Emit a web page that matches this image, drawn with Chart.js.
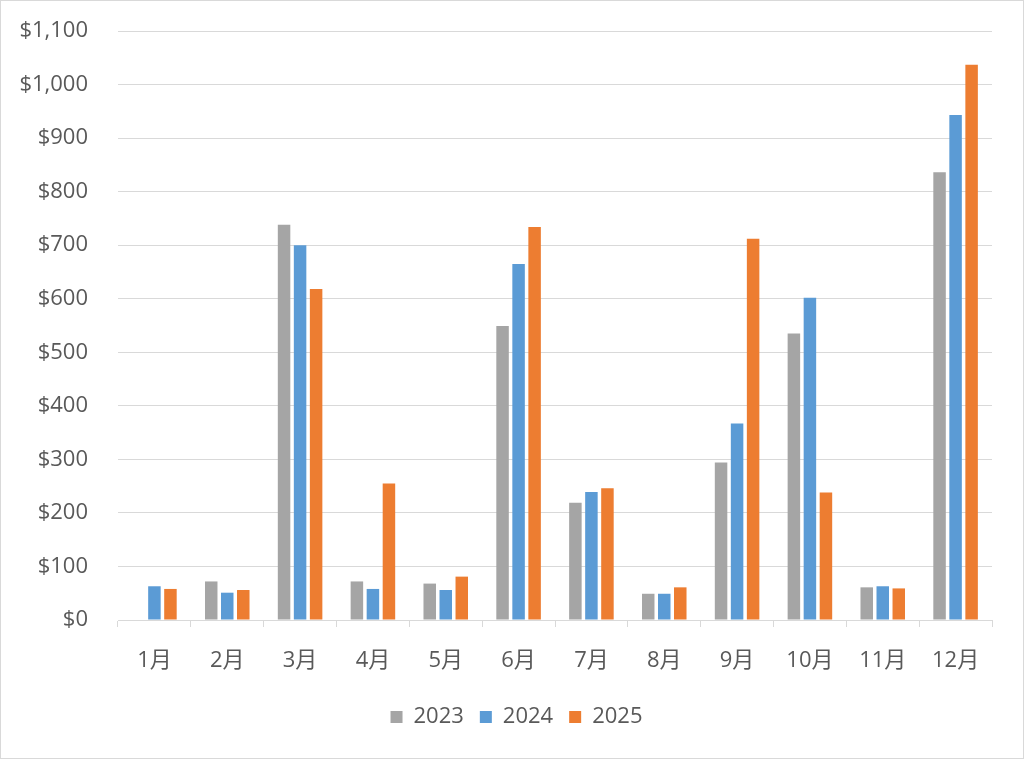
<!DOCTYPE html>
<html>
<head>
<meta charset="utf-8">
<script src="https://cdn.jsdelivr.net/npm/chart.js@4/dist/chart.umd.min.js"></script>
<style>
  body { margin: 0; background: #fff; }
  #wrap { width: 1024px; height: 759px; box-sizing: border-box; border: 1px solid #d9d9d9; background: #fff; }
</style>
</head>
<body>
<div id="wrap"><canvas id="chart" width="1022" height="757"></canvas></div>
<script>
const months = ['1月', '2月', '3月', '4月', '5月', '6月', '7月', '8月', '9月', '10月', '11月', '12月'];
const sales2023 = [0, 72, 738, 72, 68, 549, 219, 49, 294, 535, 61, 836];
const sales2024 = [63, 51, 700, 58, 56, 665, 239, 49, 367, 602, 63, 943];
const sales2025 = [58, 56, 618, 255, 81, 734, 246, 61, 712, 238, 59, 1037];

const fontFamily = '"Open Sans", "Noto Sans CJK JP", sans-serif';
const textColor = '#595959';
const lineColor = '#d9d9d9';

// legend is centred on the whole canvas in the original, not on the padded box
const shiftLegend = {
  id: 'shiftLegend',
  afterLayout(chart) {
    chart.legend.left += 20;
    chart.legend.right += 20;
  },
};

const ctx = document.getElementById('chart');
new Chart(ctx, {
  type: 'bar',
  data: {
    labels: months,
    datasets: [
      { label: '2023', data: sales2023, backgroundColor: '#a5a5a5' },
      { label: '2024', data: sales2024, backgroundColor: '#5b9bd5' },
      { label: '2025', data: sales2025, backgroundColor: '#ed7d31' },
    ],
  },
  options: {
    responsive: false,
    animation: false,
    categoryPercentage: 0.66,
    barPercentage: 0.78,
    layout: { padding: { top: 30, right: 31, left: 0, bottom: 20 } },
    scales: {
      x: {
        afterFit: (scale) => { scale.height = 70; },
        grid: { drawOnChartArea: false, drawTicks: true, tickLength: 7, color: lineColor, offset: true },
        border: { color: lineColor },
        ticks: { color: textColor, font: { family: fontFamily, size: 22 }, padding: 21 },
      },
      y: {
        min: 0,
        max: 1100,
        afterFit: (scale) => {
          scale.width = 117;
          scale.paddingTop = 0;
          scale.paddingBottom = 0;
        },
        grid: { color: lineColor, drawTicks: false },
        border: { display: false },
        ticks: {
          stepSize: 100,
          color: textColor,
          padding: 30,
          font: { family: fontFamily, size: 22 },
          callback: (v) => '$' + v.toLocaleString('en-US'),
        },
      },
    },
    plugins: {
      tooltip: { enabled: false },
      legend: {
        position: 'bottom',
        labels: {
          color: textColor,
          boxWidth: 12,
          boxHeight: 12,
          padding: 16,
          font: { family: fontFamily, size: 22 },
        },
      },
    },
  },
  plugins: [shiftLegend],
});
</script>
</body>
</html>
